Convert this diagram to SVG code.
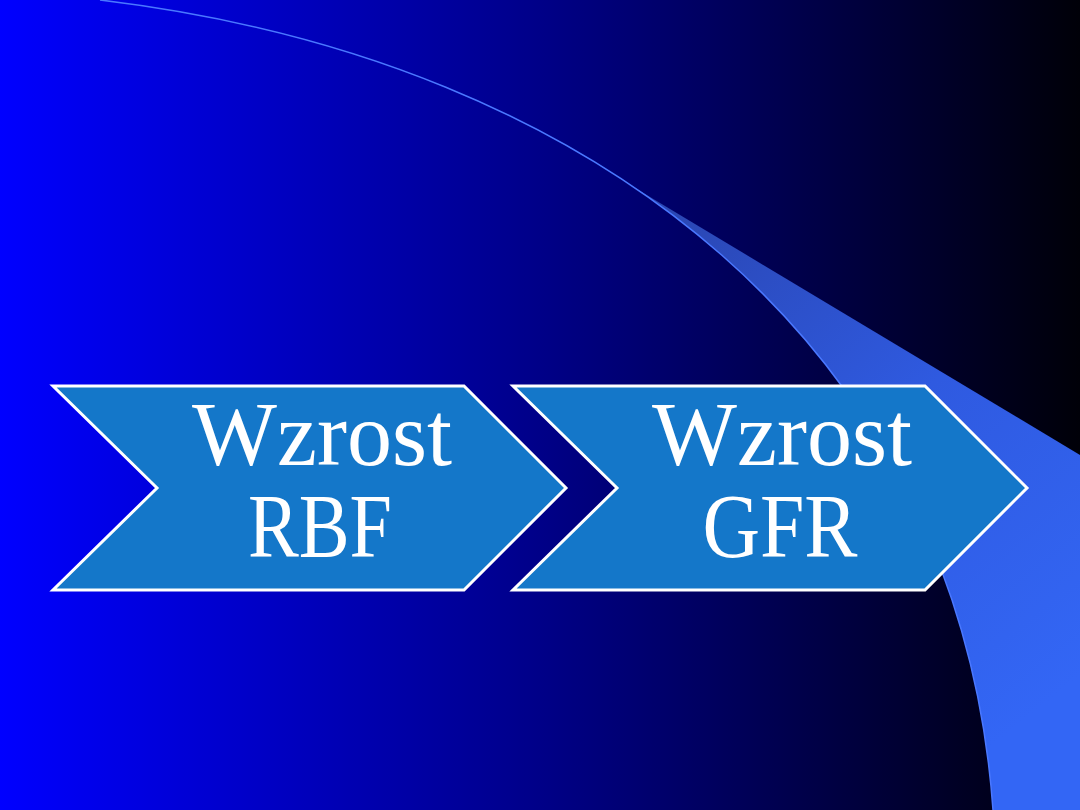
<svg xmlns="http://www.w3.org/2000/svg" width="1080" height="810" viewBox="0 0 1080 810">
  <defs>
    <linearGradient id="bg" x1="0" y1="0" x2="1080" y2="0" gradientUnits="userSpaceOnUse">
      <stop offset="0" stop-color="#0000ff"/>
      <stop offset="0.5" stop-color="#000088"/>
      <stop offset="1" stop-color="#000008"/>
    </linearGradient>
    <linearGradient id="sw" x1="650" y1="200" x2="1050" y2="700" gradientUnits="userSpaceOnUse">
      <stop offset="0" stop-color="#2a45b0"/>
      <stop offset="0.5" stop-color="#2f5ae0"/>
      <stop offset="1" stop-color="#3366f5"/>
    </linearGradient>
    <clipPath id="below">
      <polygon points="560,143 1080,455 1080,810 0,810 0,143"/>
    </clipPath>
    <style>
      .chev { fill: #1477c9; stroke: #ffffff; stroke-width: 3; stroke-linejoin: miter; }
      .lbl { font-family: "Liberation Serif", "DejaVu Serif", serif; font-size: 90px; fill: #ffffff; text-anchor: middle; }
    </style>
  </defs>
  <rect x="0" y="0" width="1080" height="810" fill="url(#bg)"/>
  <g id="swoosh">
    <path d="M100,0 C600,60 960,350 993,810 L1080,810 L1080,0 Z" fill="url(#sw)" clip-path="url(#below)"/>
    <path d="M100,0 C600,60 960,350 993,810" fill="none" stroke="#4a78ff" stroke-width="1.5"/>
  </g>
  <g id="connectors"></g>
  <g id="node-rbf">
    <polygon class="chev" points="53,386 464,386 566,488 464,590 53,590 157,488"/>
    <text class="lbl" x="322" y="465">Wzrost</text>
    <text class="lbl" x="320" y="557" textLength="144" lengthAdjust="spacingAndGlyphs">RBF</text>
  </g>
  <g id="node-gfr">
    <polygon class="chev" points="513,386 925,386 1027,488 925,590 513,590 617,488"/>
    <text class="lbl" x="782" y="465">Wzrost</text>
    <text class="lbl" x="780" y="557" textLength="155" lengthAdjust="spacingAndGlyphs">GFR</text>
  </g>
</svg>
